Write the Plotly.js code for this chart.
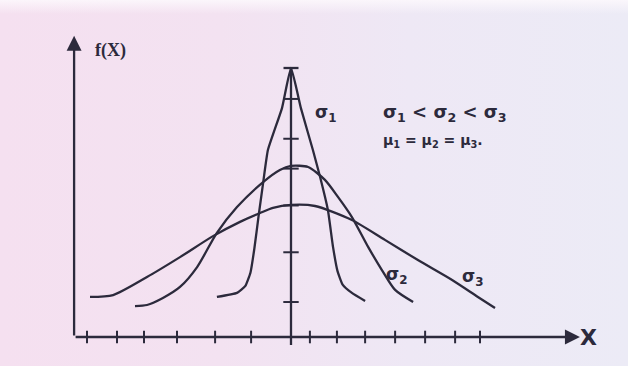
<!DOCTYPE html>
<html>
<head>
<meta charset="utf-8">
<script src="https://cdn.plot.ly/plotly-3.0.1.min.js"></script>
<style>
  html, body { margin: 0; padding: 0; }
  body {
    width: 628px; height: 366px; overflow: hidden;
    background:
      linear-gradient(to bottom, rgba(252,248,252,0.9) 0px, rgba(252,248,252,0) 14px),
      linear-gradient(to right, #f5e0f0 0%, #f3e2f1 35%, #eee8f5 65%, #ecebf6 100%);
  }
  #chart { width: 628px; height: 366px; }
</style>
</head>
<body>
<div id="chart"></div>
<script>
// Normal density curves with a common mean and increasing spread.
// X is measured in tick steps from the mean, f(X) relative to the tallest peak.

// sigma 1 (narrowest)
const x1 = [-2.47, -1.80, -1.52, -1.35, -1.22, -1.08, -0.93, -0.77, -0.30, 0.00, 0.33, 0.73, 0.97, 1.23, 1.40, 1.55, 1.72, 2.03, 2.47];
const y1 = [0.149, 0.164, 0.190, 0.240, 0.330, 0.450, 0.572, 0.695, 0.851, 1.000, 0.851, 0.695, 0.595, 0.472, 0.335, 0.245, 0.195, 0.164, 0.134];

// sigma 2
const x2 = [-5.20, -4.80, -4.27, -3.70, -3.13, -2.47, -1.80, -0.93, -0.37, 0.00, 0.57, 1.13, 1.57, 2.03, 2.57, 3.03, 3.47, 4.07];
const y2 = [0.115, 0.119, 0.145, 0.186, 0.260, 0.387, 0.483, 0.576, 0.621, 0.636, 0.632, 0.584, 0.520, 0.446, 0.335, 0.249, 0.175, 0.130];

// sigma 3 (widest)
const x3 = [-6.70, -5.93, -4.80, -3.70, -2.60, -1.70, -1.03, -0.60, 0.00, 0.80, 2.03, 3.13, 4.23, 5.37, 6.23, 6.80];
const y3 = [0.149, 0.156, 0.223, 0.297, 0.375, 0.428, 0.461, 0.480, 0.491, 0.487, 0.435, 0.361, 0.286, 0.212, 0.149, 0.108];

// tick marks along the X axis and along the mean line
const xTicks = [-6.80, -5.80, -4.90, -3.80, -2.53, -1.33, 0.63, 1.53, 2.47, 3.47, 4.47, 5.47, 6.30];
const meanTicks = [0.130, 0.315, 0.489, 0.626, 0.737, 0.885];

// axis extents
const axisX0 = -7.23, axisXEnd = 9.63;
const axisYEnd = 1.12;
const meanTop = 1.0;

const ink = '#2c2a3c';
const lineW = 2.3;

function curve(x, y, smooth) {
  return {
    type: 'scatter', mode: 'lines', x: x, y: y,
    line: { color: ink, width: lineW, shape: 'spline', smoothing: smooth },
    hoverinfo: 'skip', showlegend: false
  };
}

const traces = [
  curve(x3, y3, 0.7),
  curve(x2, y2, 0.7),
  curve(x1, y1, 0.4),
  // mean line with a cap at the top
  { type: 'scatter', mode: 'lines', x: [0, 0], y: [-0.03, meanTop],
    line: { color: ink, width: lineW }, hoverinfo: 'skip', showlegend: false },
  { type: 'scatter', mode: 'lines', x: [-0.25, 0.25], y: [meanTop, meanTop],
    line: { color: ink, width: lineW }, hoverinfo: 'skip', showlegend: false },
  // ticks on the X axis
  { type: 'scatter', mode: 'markers', x: xTicks, y: xTicks.map(() => 0),
    marker: { symbol: 'line-ns', size: 9, line: { color: ink, width: 2 } },
    hoverinfo: 'skip', showlegend: false },
  // ticks on the mean line
  { type: 'scatter', mode: 'markers', x: meanTicks.map(() => 0), y: meanTicks,
    marker: { symbol: 'line-ew', size: 11, line: { color: ink, width: 2 } },
    hoverinfo: 'skip', showlegend: false }
];

const txtFont = { family: 'DejaVu Sans', size: 17, color: ink };

const layout = {
  width: 628, height: 366,
  margin: { l: 0, r: 0, t: 0, b: 0 },
  paper_bgcolor: 'rgba(0,0,0,0)',
  plot_bgcolor: 'rgba(0,0,0,0)',
  showlegend: false,
  xaxis: { range: [-9.7, 11.233], visible: false, fixedrange: true },
  yaxis: { range: [-0.1078, 1.2528], visible: false, fixedrange: true },
  annotations: [
    // X axis arrow
    { x: axisXEnd, y: 0, ax: axisX0, ay: 0, xref: 'x', yref: 'y', axref: 'x', ayref: 'y',
      showarrow: true, arrowhead: 2, arrowsize: 1.3, arrowwidth: 2.3, arrowcolor: ink, text: '' },
    // f(X) axis arrow
    { x: axisX0, y: axisYEnd, ax: axisX0, ay: 0, xref: 'x', yref: 'y', axref: 'x', ayref: 'y',
      showarrow: true, arrowhead: 2, arrowsize: 1.3, arrowwidth: 2.3, arrowcolor: ink, text: '' },
    { x: -6.03, y: 1.066, xref: 'x', yref: 'y', showarrow: false,
      text: '<b>f(X)</b>', font: { family: 'Liberation Serif', size: 18, color: ink } },
    { x: 9.93, y: 0, xref: 'x', yref: 'y', showarrow: false,
      text: '<b>X</b>', font: { family: 'DejaVu Sans', size: 22, color: ink } },
    { x: 1.17, y: 0.83, xref: 'x', yref: 'y', showarrow: false,
      text: '<b>σ<sub>1</sub></b>', font: txtFont },
    { x: 3.53, y: 0.23, xref: 'x', yref: 'y', showarrow: false,
      text: '<b>σ<sub>2</sub></b>', font: txtFont },
    { x: 6.07, y: 0.22, xref: 'x', yref: 'y', showarrow: false,
      text: '<b>σ<sub>3</sub></b>', font: txtFont },
    { x: 3.0, y: 0.833, xref: 'x', yref: 'y', xanchor: 'left', showarrow: false,
      text: '<b>σ<sub>1</sub> &lt; σ<sub>2</sub> &lt; σ<sub>3</sub></b>', font: { family: 'DejaVu Sans', size: 18, color: ink } },
    { x: 3.0, y: 0.729, xref: 'x', yref: 'y', xanchor: 'left', showarrow: false,
      text: '<b>μ<sub>1</sub> = μ<sub>2</sub> = μ<sub>3</sub>.</b>', font: { family: 'DejaVu Sans', size: 14, color: ink } }
  ]
};

Plotly.newPlot('chart', traces, layout, { staticPlot: true, displayModeBar: false });
</script>
</body>
</html>
